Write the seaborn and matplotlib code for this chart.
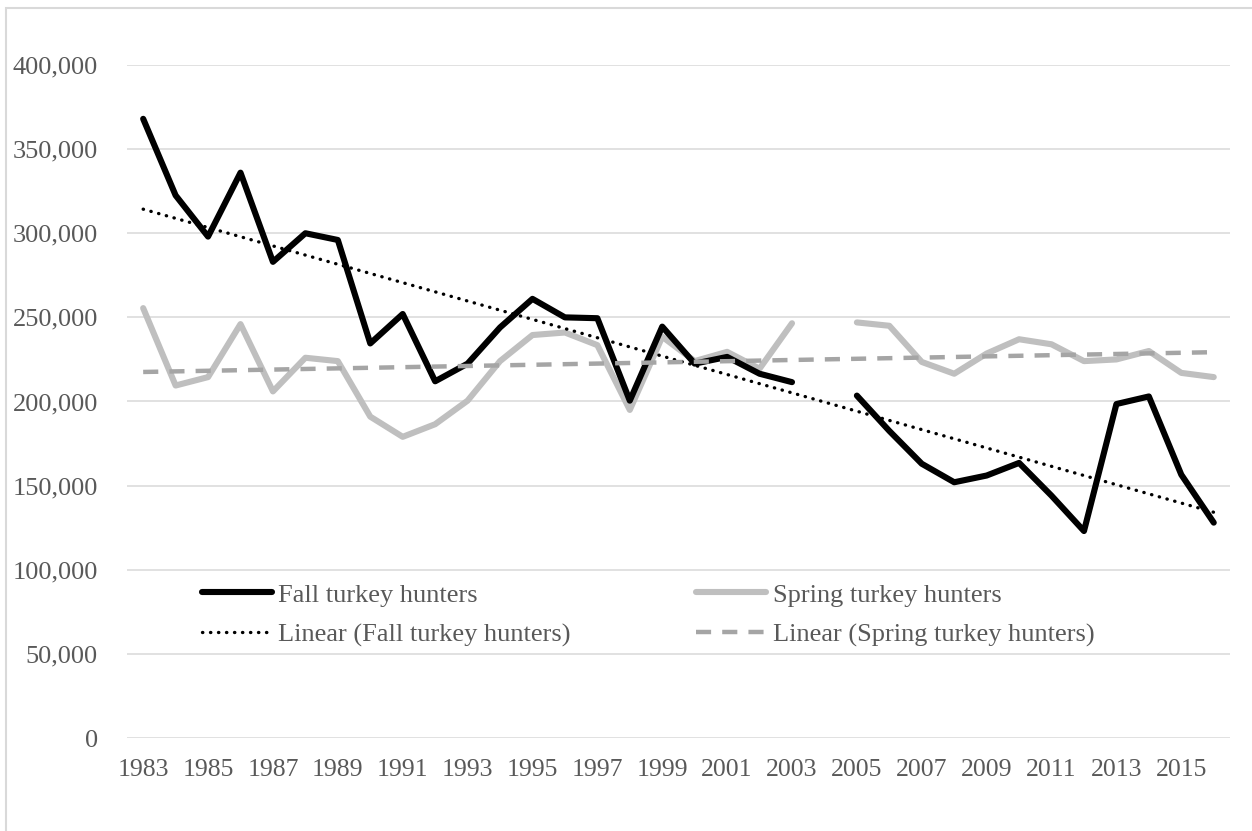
import numpy as np
import pandas as pd
import matplotlib.pyplot as plt
import seaborn as sns
from matplotlib.lines import Line2D
from matplotlib.patches import Rectangle
from matplotlib.ticker import FuncFormatter

# Hunter counts by season (2004 has no data)
years = list(range(1983, 2017))
fall = [368000, 322500, 298000, 336000, 283000, 300000, 296000, 234500, 252000, 212000,
        222500, 244000, 261000, 250000, 249500, 200500, 244500, 222500, 226500, 216500,
        211500, None, 203500, 182500, 163000, 152000, 156000, 163500, 144000, 123000,
        198500, 203000, 156500, 128000]
spring = [255500, 209500, 214500, 246000, 206000, 226000, 224000, 191000, 179000, 186500,
          200500, 224000, 239500, 241000, 233500, 195000, 238500, 224000, 229500, 219500,
          246500, None, 247000, 245000, 223500, 216500, 228500, 237000, 234000, 224000,
          225000, 230000, 217000, 214500]
labels = ["Fall turkey hunters", "Spring turkey hunters"]

TXT = "#595959"
FALL_C = "#000000"
SPRING_C = "#BFBFBF"
SPRING_TREND_C = "#A5A5A5"

sns.set_theme(style="white")
plt.rcParams['font.family'] = ['Liberation Serif', 'DejaVu Serif']


def series_frame(values):
    """Build a frame with a segment id so the 2004 gap breaks the line."""
    df = pd.DataFrame({"idx": np.arange(len(years)), "value": values})
    df["value"] = pd.to_numeric(df["value"])
    df["segment"] = df["value"].isna().cumsum()
    return df.dropna()


fig = plt.figure(figsize=(12.52, 8.31), dpi=100)
ax = fig.add_axes([0.1014, 0.1119, 0.8810, 0.8099])

# light chart-area border like the spreadsheet export
fig.patches.append(Rectangle((6 / 1252, -0.1), 1.2, 1 - 8 / 831 + 0.1,
                             transform=fig.transFigure, fill=False,
                             edgecolor="#D9D9D9", linewidth=1.5))

fall_df = series_frame(fall)
spring_df = series_frame(spring)

line_kw = dict(estimator=None, linewidth=4.4, legend=False, ax=ax)
sns.lineplot(data=spring_df, x="idx", y="value", units="segment", color=SPRING_C,
             solid_capstyle="round", solid_joinstyle="round", **line_kw)
sns.lineplot(data=fall_df, x="idx", y="value", units="segment", color=FALL_C,
             solid_capstyle="round", solid_joinstyle="round", **line_kw)

# linear trend lines (least squares over category index)
xs = np.arange(len(years))
fall_fit = np.polyfit(fall_df["idx"], fall_df["value"], 1)
spring_fit = np.polyfit(spring_df["idx"], spring_df["value"], 1)
sns.lineplot(x=xs, y=np.polyval(fall_fit, xs), color=FALL_C, linewidth=2.4,
             linestyle=(0, (0.1, 2.3)), dash_capstyle="round", ax=ax, legend=False)
sns.lineplot(x=xs, y=np.polyval(spring_fit, xs), color=SPRING_TREND_C, linewidth=3.2,
             linestyle=(0, (3.4, 2.5)), ax=ax, legend=False)

ax.set_xlim(-0.5, len(years) - 0.5)
ax.set_ylim(0, 400000)
ax.set_yticks(np.arange(0, 400001, 50000))
ax.yaxis.set_major_formatter(FuncFormatter(lambda v, p: f"{int(v):,}"))
ax.set_xticks(xs[::2])
ax.set_xticklabels([str(y) for y in years[::2]])
ax.set_xlabel("")
ax.set_ylabel("")

ax.grid(axis="y", color="#D9D9D9", linewidth=1.1)
ax.set_axisbelow(True)
for s in ax.spines.values():
    s.set_visible(False)
ax.tick_params(axis="y", length=0, pad=21, labelsize=19, labelcolor=TXT)
ax.tick_params(axis="x", length=0, pad=15, labelsize=18.5, labelcolor=TXT)

handles = [
    Line2D([], [], color=FALL_C, linewidth=4.4, solid_capstyle="round"),
    Line2D([], [], color=FALL_C, linewidth=2.4, linestyle=(0, (0.1, 2.3)), dash_capstyle="round"),
    Line2D([], [], color=SPRING_C, linewidth=4.4, solid_capstyle="round"),
    Line2D([], [], color=SPRING_TREND_C, linewidth=3.2, linestyle=(0, (3.4, 2.5))),
]
names = [labels[0], f"Linear ({labels[0]})", labels[1], f"Linear ({labels[1]})"]
leg = ax.legend(handles, names, ncol=2, loc="upper left", bbox_to_anchor=(0.068, 0.23),
                frameon=False, fontsize=19, handlelength=2.65, handletextpad=0.25,
                columnspacing=4.75, labelspacing=0.62, borderpad=0, borderaxespad=0)
for t in leg.get_texts():
    t.set_color(TXT)

fig.savefig("out.png", dpi=100)
